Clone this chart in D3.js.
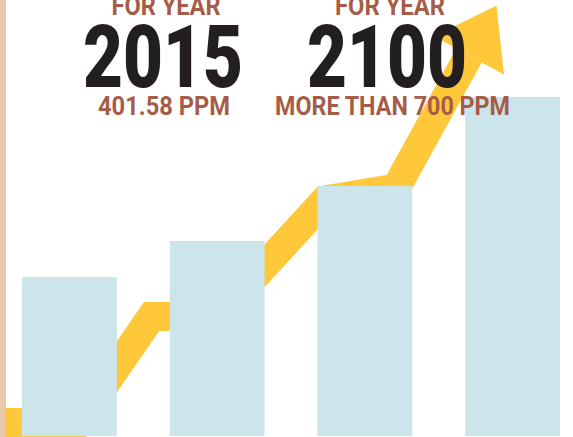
<!DOCTYPE html>
<html>
<head>
<meta charset="utf-8">
<script src="https://cdn.jsdelivr.net/npm/d3@7"></script>
<style>
  body { margin: 0; background: #fff; }
  svg { display: block; }
  text { font-family: Roboto, "DejaVu Sans", sans-serif; font-weight: 700; }
</style>
</head>
<body>
<div id="chart"></div>
<script>
// bar categories and heights (in chart units)
var years = ["1900", "1950", "2015", "2100"];
var levels = [159, 195, 250, 339];

// trend arrow, x in % of width, y in the same units as the bars
var trendX = [0, 13.7, 26.44, 38.05, 56.72, 69.11, 81.85];
var trendY = [13.5, 13.5, 119.5, 119.5, 236, 248, 380.5];

// annotations
var headYears = ["2015", "2100"];
var headNotes = ["401.58 PPM", "MORE THAN 700 PPM"];
var headTitle = "FOR YEAR";

var width = 573, height = 437;

var svg = d3.select('#chart')
  .append('svg')
  .attr('width', width)
  .attr('height', height);

var x = d3.scaleBand()
  .domain(years)
  .range([22, 560])
  .paddingInner(0.358)
  .paddingOuter(0);

var y = d3.scaleLinear()
  .domain([0, 436])
  .range([436, 0]);

var xt = d3.scaleLinear()
  .domain([0, 100])
  .range([0, width]);

//The arrow shaft
var pts = trendX.map(function (d, i) {
  return [xt(d), y(trendY[i])];
});

svg.append('path')
  .attr('d', d3.line()(pts))
  .attr('fill', 'none')
  .attr('stroke', '#ffc73a')
  .attr('stroke-width', 29)
  .attr('stroke-linejoin', 'miter')
  .attr('stroke-miterlimit', 6);

//Arrow head built from the direction of the last segment
var a = pts[pts.length - 2], b = pts[pts.length - 1];
var dx = b[0] - a[0], dy = b[1] - a[1], len = Math.sqrt(dx * dx + dy * dy);
var ux = dx / len, uy = dy / len;
var headLen = 57, headHalf = 40;
var head = [
  [b[0] + ux * headLen, b[1] + uy * headLen],
  [b[0] - uy * headHalf, b[1] + ux * headHalf],
  [b[0] + uy * headHalf, b[1] - ux * headHalf]
];
svg.append('path')
  .attr('d', d3.line()(head) + 'Z')
  .attr('fill', '#ffc73a');

//Bars
svg.selectAll('.bar')
  .data(levels)
  .enter()
  .append('rect')
  .attr('class', 'bar')
  .attr('x', function (d, i) { return x(years[i]); })
  .attr('y', function (d) { return y(d); })
  .attr('width', x.bandwidth())
  .attr('height', function (d) { return y(0) - y(d); })
  .attr('fill', '#cce5ea');

//Left strip
svg.append('rect')
  .attr('x', 0)
  .attr('y', 0)
  .attr('width', 6)
  .attr('height', height)
  .attr('fill', '#e9c9a7');

//Headline texts
var cx = [166, 390];
var titleW = [109, 110], yearW = [160, 160], noteW = [132, 235];

headYears.forEach(function (yr, i) {
  svg.append('text')
    .attr('x', cx[i])
    .attr('y', 15)
    .attr('text-anchor', 'middle')
    .attr('textLength', titleW[i])
    .attr('lengthAdjust', 'spacingAndGlyphs')
    .style('font-size', '25px')
    .attr('fill', '#a65c47')
    .text(headTitle);

  svg.append('text')
    .attr('x', cx[i] - 3)
    .attr('y', 87)
    .attr('text-anchor', 'middle')
    .attr('textLength', yearW[i])
    .attr('lengthAdjust', 'spacingAndGlyphs')
    .style('font-size', '87px')
    .style('font-weight', 900)
    .attr('fill', '#231f20')
    .text(yr);

  svg.append('text')
    .attr('x', i === 0 ? 164 : 392.5)
    .attr('y', 115)
    .attr('text-anchor', 'middle')
    .attr('textLength', noteW[i])
    .attr('lengthAdjust', 'spacingAndGlyphs')
    .style('font-size', '25px')
    .attr('fill', '#a65c47')
    .text(headNotes[i]);
});
</script>
</body>
</html>
